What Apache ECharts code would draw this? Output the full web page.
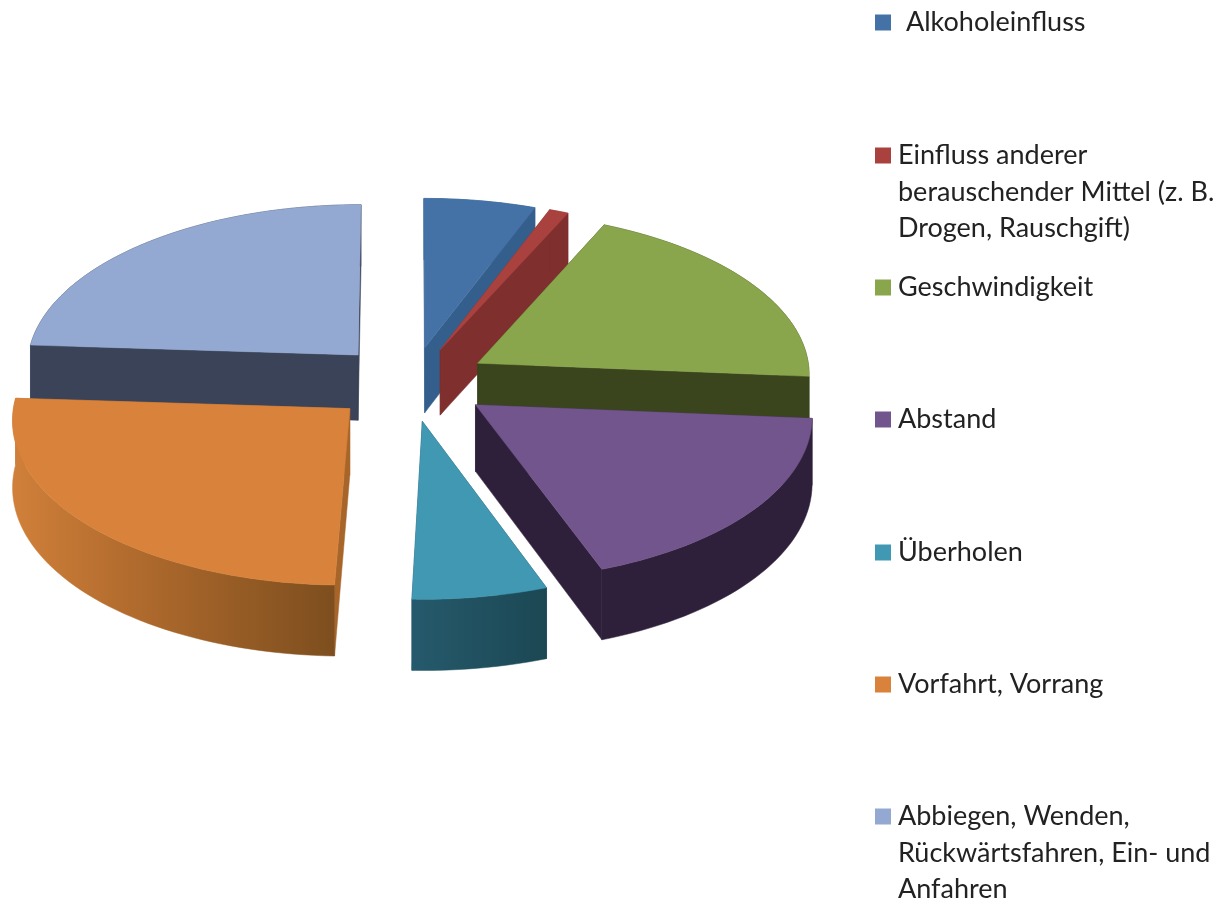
<!DOCTYPE html>
<html><head><meta charset="utf-8">
<style>html,body{margin:0;padding:0;background:#fff}#c{width:1222px;height:900px}</style>
<script src="https://cdn.jsdelivr.net/npm/echarts@6/dist/echarts.min.js"></script>
</head><body><div id="c"></div>
<script>
const categories = ['Alkoholeinfluss','Einfluss anderer','Geschwindigkeit','Abstand','Überholen','Vorfahrt, Vorrang','Abbiegen, Wenden,'];
const continuation = [[],['berauschender Mittel (z. B.','Drogen, Rauschgift)'],[],[],[],[],['Rückwärtsfahren, Ein- und','Anfahren']];
const shares = [5.8,1.0,19.5,18.1,6.1,25.5,24.0];
const topColors = ['#4472A6','#A9423F','#89A64C','#72558C','#4098B2','#D9823B','#93A9D2'];
const wallColors = ['#345F8C','#7F2F2E','#3A451D','#2E203A','#1F4F5E','#A8652A','#3A4358'];
const explodes = [0.23,0.23,0.23,0.23,0.23,0.25,0.23];
const nudgeX = [0,0,1,3,-1,1,-1];
const nudgeY = [0,0,-2,-2,0,-3,-2];
const layers = [1,1,1,2,3,3,2];

const CX=411, CY=384, RX=333, RY=162.5, K=0.06, H=66;
const total = shares.reduce((a,b)=>a+b,0);
const proj=(ux,uy,drop,i)=>{const w=1/(1-K*uy);return [CX+nudgeX[i]+RX*ux*w, CY+nudgeY[i]+RY*uy*w+(drop?H*w:0)];};

function renderSlice(idx){
  return function(params,api){
    let before=0; for(let i=0;i<idx;i++) before+=shares[i];
    const a0=before/total*2*Math.PI, a1=(before+api.value(0))/total*2*Math.PI, mid=(a0+a1)/2;
    const ox=explodes[idx]*Math.sin(mid), oy=-explodes[idx]*Math.cos(mid);
    const disk=a=>[ox+Math.sin(a), oy-Math.cos(a)];
    const steps=Math.max(3,Math.ceil((a1-a0)/0.03));
    const rimU=[]; for(let s=0;s<=steps;s++) rimU.push(disk(a0+(a1-a0)*s/steps));
    const rimTop=rimU.map(u=>proj(u[0],u[1],false,idx));
    const rimBot=rimU.map(u=>proj(u[0],u[1],true,idx));
    const apexT=proj(ox,oy,false,idx), apexB=proj(ox,oy,true,idx);
    const poly=(points,fill)=>({type:'polygon',shape:{points},style:{fill,stroke:fill,lineWidth:0.5}});
    const wall=topColors[idx], dark=wallColors[idx];
    const outerFill = idx===5
      ? {type:'linear',x:0,y:0,x2:1,y2:0,colorStops:[{offset:0,color:'#D0803A'},{offset:0.35,color:'#B36C2E'},{offset:1,color:'#7D4E1E'}]}
      : idx===4
      ? {type:'linear',x:0,y:0,x2:1,y2:0,colorStops:[{offset:0,color:'#255A6C'},{offset:1,color:'#1C4753'}]}
      : dark;
    const kids=[
      poly([apexT,rimTop[0],rimBot[0],apexB],dark),
      poly([apexT,rimTop[steps],rimBot[steps],apexB],dark),
      poly(rimTop.concat(rimBot.slice().reverse()),outerFill),
      poly([apexT].concat(rimTop),wall)
    ];
    return {type:'group',children:kids};
  };
}

const legendTops=[9,142,274,406,539,671,803];
const option={
  animation:false,
  backgroundColor:'#fff',
  legend:categories.map((name,i)=>({
    data:[{name,icon:'rect'}],
    left:875, top:legendTops[i], orient:'vertical',padding:0,
    itemWidth:16,itemHeight:16,itemGap:0,selectedMode:false,
    textStyle:{fontFamily:'Lato',fontSize:27,color:'#222',padding:[0,0,0,i===0?10:2]}
  })),
  graphic:continuation.flatMap((lines,i)=>lines.map((t,j)=>({
    type:'text',left:898,top:legendTops[i]+37+36*j,
    style:{text:t,fontFamily:'Lato',fontSize:27,fill:'#222'}
  }))),
  series:categories.map((name,i)=>({
    type:'custom',name,coordinateSystem:'none',
    color:topColors[i],
    z:layers[i],
    data:[[shares[i]]],
    renderItem:renderSlice(i),
    silent:true
  }))
};
echarts.init(document.getElementById('c')).setOption(option);
</script></body></html>
